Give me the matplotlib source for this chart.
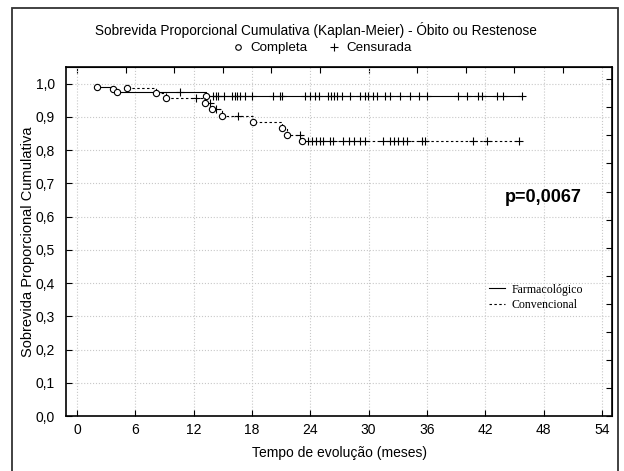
import numpy as np
import matplotlib.pyplot as plt
from matplotlib.lines import Line2D
from matplotlib.patches import Rectangle

plt.rcParams['font.family'] = ['Liberation Sans', 'DejaVu Sans']

# Farmacológico (solid) - events and censored times (months)
farm_event_t = [2.1, 3.7, 4.1, 13.3]
farm_event_s = [0.990, 0.985, 0.974, 0.964]
farm_cens_t = [10.6, 14.0, 14.3, 14.5, 15.1, 15.9, 16.25, 16.5, 16.8, 17.3, 18.0,
               20.2, 20.9, 21.1, 23.45, 24.0, 24.5, 24.9, 25.8, 26.1, 26.4, 26.7,
               27.3, 28.1, 29.1, 29.6, 29.9, 30.4, 30.9, 31.7, 32.2, 33.2, 34.3,
               35.2, 36.0, 39.2, 40.1, 41.2, 41.7, 43.2, 43.8, 45.8]

# Convencional (dashed)
conv_event_t = [5.1, 8.1, 9.2, 13.2, 13.9, 14.95, 18.1, 21.1, 21.6, 23.1]
conv_event_s = [0.987, 0.972, 0.957, 0.942, 0.924, 0.904, 0.886, 0.866, 0.846, 0.826]
conv_cens_t = [12.2, 13.7, 14.3, 16.6, 22.9, 23.8, 24.2, 24.6, 25.0, 25.3, 26.0,
               26.3, 27.4, 28.0, 28.5, 29.1, 29.6, 31.5, 32.2, 32.6, 33.0, 33.5,
               33.9, 35.5, 35.8, 40.7, 42.2, 45.5]

xticks = [0, 6, 12, 18, 24, 30, 36, 42, 48, 54]
yticks = [0.0, 0.1, 0.2, 0.3, 0.4, 0.5, 0.6, 0.7, 0.8, 0.9, 1.0]


def km_curve(ax, et, es, ct, ls, dashes=None):
    et = np.asarray(et)
    es = np.asarray(es)
    ct = np.asarray(ct)
    xs = np.append(et, ct.max())
    ys = np.append(es, es[-1])
    line, = ax.plot(xs, ys, drawstyle='steps-post', color='black', lw=0.8, ls=ls)
    if dashes:
        line.set_dashes(dashes)
    # censored marks sit on the current step value
    idx = np.searchsorted(et, ct, side='right') - 1
    cs = es[idx]
    ax.plot(ct, cs, ls='none', marker='+', ms=6, mew=0.8, color='black')
    ax.plot(et, es, ls='none', marker='o', ms=4.5, mew=0.8, mfc='white', mec='black')
    return line


fig = plt.figure(figsize=(6.24, 4.71), dpi=100)
ax = fig.add_axes([66/624, 1-416/471, (612-66)/624, (416-67)/471])

l1 = km_curve(ax, farm_event_t, farm_event_s, farm_cens_t, '-')
l2 = km_curve(ax, conv_event_t, conv_event_s, conv_cens_t, '--', dashes=(2.2, 2.2))

ax.set_xlim(-1.13, 55.03)
ax.set_ylim(0, 1.05)
ax.set_xticks(xticks)
ax.set_xticklabels([str(t) for t in xticks])
ax.set_yticks(yticks)
ax.set_yticklabels([('%.1f' % v).replace('.', ',') for v in yticks])
ax.tick_params(direction='in', length=4, width=0.8, labelsize=10, colors='black')
ax.tick_params(axis='x', pad=5)
ax.tick_params(axis='y', pad=8)
ax.grid(True, color='#c8c8c8', ls=':', lw=0.8)
for s in ax.spines.values():
    s.set_linewidth(1.2)

# secondary ticks on top and right
axt = ax.secondary_xaxis('top')
axt.set_xticks(np.arange(0, 51, 5))
axt.tick_params(direction='in', length=4, width=0.8, labeltop=False)
axr = ax.secondary_yaxis('right')
axr.set_yticks(np.arange(0, 1.05, 1.013/12))
axr.tick_params(direction='in', length=4, width=0.8, labelright=False)

ax.set_xlabel('Tempo de evolução (meses)', fontsize=10)
ax.xaxis.set_label_coords(0.5, -0.085)
ax.set_ylabel('Sobrevida Proporcional Cumulativa', fontsize=10.5)
ax.yaxis.set_label_coords(-0.057, 0.5)

ax.text(48.0, 0.657, 'p=0,0067', fontsize=13, fontweight='bold', ha='center', va='center')

ax.legend([l1, l2], ['Farmacológico', 'Convencional'], loc='upper left',
          bbox_to_anchor=(0.755, 0.41), frameon=False, handlelength=1.3,
          handletextpad=0.6, labelspacing=0.3,
          prop={'family': 'Liberation Serif', 'size': 8.6})

fig.text(0.507, 1-30/471, 'Sobrevida Proporcional Cumulativa (Kaplan-Meier) - Óbito ou Restenose',
         ha='center', va='center', fontsize=9.8)
h_comp = Line2D([], [], ls='none', marker='o', ms=4, mew=0.8, mfc='white', mec='black')
h_cens = Line2D([], [], ls='none', marker='+', ms=6, mew=0.8, color='black')
fig.legend([h_comp, h_cens], ['Completa', 'Censurada'], loc='center', ncol=2,
           bbox_to_anchor=(0.515, 1-48/471), frameon=False, fontsize=9.6,
           handlelength=1, handletextpad=0.4, columnspacing=1.5)

fig.patches.append(Rectangle((12/624, -0.02), (618-12)/624, 1.02-7.5/471,
                             transform=fig.transFigure, fill=False,
                             ec='#333333', lw=1.3))

fig.savefig('out.png', dpi=100)
